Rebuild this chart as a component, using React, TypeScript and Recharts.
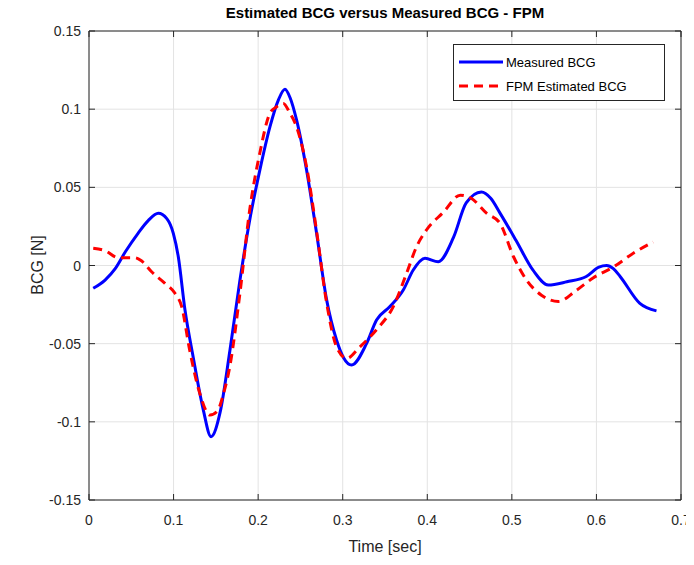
import React from "react";
import {
  LineChart,
  Line,
  XAxis,
  YAxis,
  CartesianGrid,
  ReferenceLine,
} from "recharts";

// Measured BCG (blue, solid)
const measuredTime = [
  0.005, 0.019, 0.031, 0.043, 0.058, 0.07, 0.082, 0.092, 0.0997, 0.1056,
  0.1135, 0.123, 0.135, 0.1443, 0.155, 0.1667, 0.1785, 0.19, 0.202, 0.214,
  0.224, 0.2317, 0.238, 0.2455, 0.2573, 0.2691, 0.281, 0.2927, 0.301, 0.3105,
  0.3283, 0.34, 0.3558, 0.3716, 0.3834, 0.3973, 0.413, 0.431, 0.446, 0.464,
  0.475, 0.486, 0.505, 0.525, 0.543, 0.565, 0.588, 0.603, 0.612, 0.62, 0.628,
  0.651, 0.671,
];
const measuredValues = [
  -0.0146, -0.0093, -0.002, 0.0088, 0.0206, 0.0287, 0.0334, 0.03, 0.0206,
  0.0056, -0.0285, -0.058, -0.092, -0.1095, -0.094, -0.054, -0.0093, 0.029,
  0.061, 0.0888, 0.106, 0.1127, 0.107, 0.093, 0.061, 0.0206, -0.022, -0.0477,
  -0.059, -0.0637, -0.0498, -0.0349, -0.0263, -0.0157, -0.0029, 0.0046,
  0.0024, 0.018, 0.04, 0.047, 0.043, 0.0335, 0.016, -0.003, -0.0125, -0.0104,
  -0.007, -0.001, 0.0, -0.002, -0.007, -0.024, -0.029,
];

// FPM Estimated BCG (red, dashed)
const fpmTime = [
  0.005, 0.019, 0.0347, 0.054, 0.062, 0.074, 0.0898, 0.1017, 0.1096, 0.119,
  0.131, 0.143, 0.152, 0.159, 0.1667, 0.1785, 0.19, 0.202, 0.214, 0.222,
  0.2297, 0.2376, 0.2455, 0.2573, 0.2691, 0.281, 0.2927, 0.3047, 0.3204, 0.34,
  0.3598, 0.3755, 0.3873, 0.399, 0.419, 0.439, 0.452, 0.47, 0.486, 0.502,
  0.517, 0.535, 0.555, 0.576, 0.596, 0.62, 0.644, 0.667,
];
const fpmValues = [
  0.011, 0.0095, 0.005, 0.005, 0.003, -0.004, -0.0114, -0.0178, -0.0263,
  -0.054, -0.0818, -0.0957, -0.093, -0.082, -0.064, -0.0176, 0.0355, 0.072,
  0.0975, 0.1016, 0.1037, 0.0974, 0.0886, 0.063, 0.022, -0.024, -0.052,
  -0.0594, -0.052, -0.041, -0.0263, -0.005, 0.012, 0.0227, 0.034, 0.045,
  0.043, 0.0335, 0.027, 0.0056, -0.009, -0.019, -0.023, -0.016, -0.008,
  -0.001, 0.008, 0.015,
];

const xTicks = [0, 0.1, 0.2, 0.3, 0.4, 0.5, 0.6, 0.7];
const yTicks = [-0.15, -0.1, -0.05, 0, 0.05, 0.1, 0.15];

const measuredData = measuredTime.map((t, i) => ({ t, v: measuredValues[i] }));
const fpmData = fpmTime.map((t, i) => ({ t, v: fpmValues[i] }));

const W = 694;
const H = 565;
const TOP = 31;
const LEFT = 89;
const RIGHT = 681;
const BOTTOM = 500;
const AXIS = "#262626";
const FONT = "'Liberation Sans', Arial, sans-serif";

const XTick = (props: any) => {
  const { x, payload } = props;
  return (
    <g>
      <line x1={x} x2={x} y1={BOTTOM} y2={BOTTOM - 6} stroke={AXIS} />
      <line x1={x} x2={x} y1={TOP} y2={TOP + 6} stroke={AXIS} />
      <text x={x} y={BOTTOM + 25} textAnchor="middle" fontSize={14} fill={AXIS} fontFamily={FONT}>
        {String(payload.value)}
      </text>
    </g>
  );
};

const YTick = (props: any) => {
  const { y, payload } = props;
  return (
    <g>
      <line x1={LEFT} x2={LEFT + 6} y1={y} y2={y} stroke={AXIS} />
      <line x1={RIGHT} x2={RIGHT - 6} y1={y} y2={y} stroke={AXIS} />
      <text x={LEFT - 8} y={y + 5} textAnchor="end" fontSize={14} fill={AXIS} fontFamily={FONT}>
        {String(payload.value)}
      </text>
    </g>
  );
};

const LegendBox = () => (
  <div
    style={{
      position: "absolute",
      top: 44,
      left: 453,
      width: 212,
      height: 57,
      border: `1px solid ${AXIS}`,
      background: "#fff",
      fontFamily: FONT,
      fontSize: 13,
      color: "#000",
      boxSizing: "border-box",
    }}
  >
    <div style={{ display: "flex", alignItems: "center", height: 26, marginTop: 4 }}>
      <svg width={52} height={10}>
        <line x1={5} x2={49} y1={5} y2={5} stroke="#0000ff" strokeWidth={3} />
      </svg>
      <span>Measured BCG</span>
    </div>
    <div style={{ display: "flex", alignItems: "center", height: 22 }}>
      <svg width={52} height={10}>
        <line x1={5} x2={49} y1={5} y2={5} stroke="#ff0000" strokeWidth={3} strokeDasharray="9 6" />
      </svg>
      <span>FPM Estimated BCG</span>
    </div>
  </div>
);

export default function App() {
  return (
    <div
      style={{
        position: "relative",
        width: W,
        height: H,
        margin: -8,
        overflow: "visible",
        fontFamily: FONT,
      }}
    >
      <LineChart
        width={W}
        height={H}
        margin={{ top: TOP, right: W - RIGHT, bottom: H - BOTTOM - 30, left: 0 }}
        style={{ overflow: "visible" }}
      >
        <CartesianGrid stroke="#e3e3e3" strokeWidth={1} />
        <XAxis
          type="number"
          dataKey="t"
          domain={[0, 0.7]}
          ticks={xTicks}
          allowDataOverflow
          height={30}
          axisLine={{ stroke: AXIS }}
          tickLine={false}
          tickSize={0}
          tick={<XTick />}
          interval={0}
        />
        <YAxis
          type="number"
          domain={[-0.15, 0.15]}
          ticks={yTicks}
          allowDataOverflow
          width={LEFT}
          axisLine={{ stroke: AXIS }}
          tickLine={false}
          tickSize={0}
          tick={<YTick />}
          interval={0}
        />
        <ReferenceLine x={0.7} stroke={AXIS} ifOverflow="extendDomain" />
        <ReferenceLine y={0.15} stroke={AXIS} ifOverflow="extendDomain" />
        <Line
          data={measuredData}
          dataKey="v"
          type="monotone"
          stroke="#0000ff"
          strokeWidth={3}
          dot={false}
          isAnimationActive={false}
        />
        <Line
          data={fpmData}
          dataKey="v"
          type="monotone"
          stroke="#ff0000"
          strokeWidth={3}
          strokeDasharray="9 6"
          dot={false}
          isAnimationActive={false}
        />
      </LineChart>
      <div
        style={{
          position: "absolute",
          top: 4,
          left: LEFT,
          width: RIGHT - LEFT,
          textAlign: "center",
          fontWeight: "bold",
          fontSize: 15,
          color: "#000",
        }}
      >
        Estimated BCG versus Measured BCG - FPM
      </div>
      <div
        style={{
          position: "absolute",
          top: 538,
          left: LEFT,
          width: RIGHT - LEFT,
          textAlign: "center",
          fontSize: 16,
          color: AXIS,
        }}
      >
        Time [sec]
      </div>
      <div
        style={{
          position: "absolute",
          top: (TOP + BOTTOM) / 2 - 10,
          left: 38 - 60,
          width: 120,
          textAlign: "center",
          fontSize: 16,
          color: AXIS,
          transform: "rotate(-90deg)",
        }}
      >
        BCG [N]
      </div>
      <LegendBox />
    </div>
  );
}
